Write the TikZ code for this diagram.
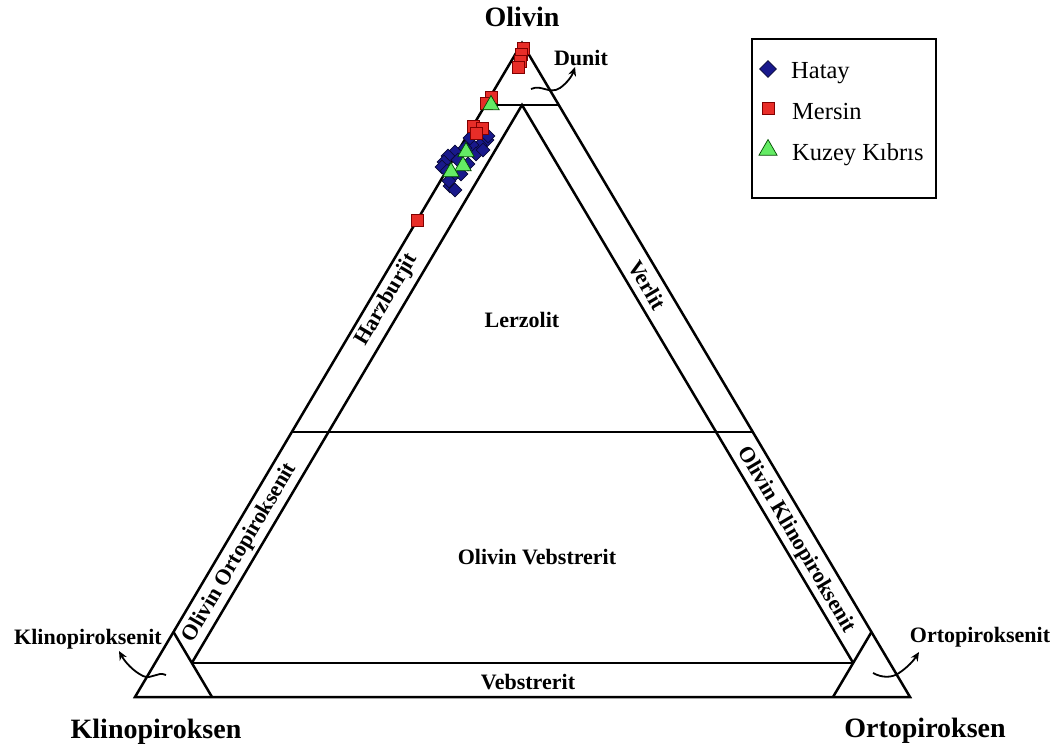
\documentclass[tikz,border=0pt]{standalone}
\usepackage{fontspec}
\setmainfont{Liberation Serif}
\usetikzlibrary{arrows.meta,shapes.geometric}
\definecolor{hblue}{RGB}{25,25,140}
\definecolor{mred}{RGB}{232,45,40}
\definecolor{kgreen}{RGB}{100,235,100}
\begin{document}
\begin{tikzpicture}[x=1pt,y=-1pt,
  edge/.style={line width=2.5pt, line join=miter},
  lbl/.style={font=\bfseries\fontsize{22}{26}\selectfont, inner sep=0pt},
  big/.style={font=\bfseries\fontsize{28}{32}\selectfont, inner sep=0pt},
  leg/.style={font=\fontsize{24.5}{28}\selectfont, inner sep=0pt, anchor=base west},
  dia/.style={diamond, draw=black!60!hblue, fill=hblue, minimum size=14pt, inner sep=0pt, line width=0.6pt},
  sq/.style={rectangle, draw=red!50!black, fill=mred, minimum size=12pt, inner sep=0pt, line width=0.6pt},
  tri/.style={regular polygon, regular polygon sides=3, draw=green!30!black, fill=kgreen, minimum size=19pt, inner sep=0pt, line width=0.7pt},
  curvy/.style={line width=1.8pt, -{Stealth[length=9pt,width=8pt]}}
]
\useasboundingbox[fill=white] (0,0) rectangle (1064,751);
% main triangle
\coordinate (A) at (522,43);
\coordinate (B) at (135,697);
\coordinate (C) at (910,697);
\draw[edge] (A) -- (B) -- (C) -- cycle;
% dunite line
\coordinate (D1) at (485.3,105);
\coordinate (D2) at (559.7,105);
\draw[edge] (D1) -- (D2);
\coordinate (I) at (522,105);
% 40% olivine line
\coordinate (L4) at (291.8,432);
\coordinate (R4) at (753.2,432);
\draw[edge] (L4) -- (R4);
% corner triangles
\coordinate (KL) at (173.5,632);
\coordinate (KB) at (212,697);
\draw[edge] (KL) -- (KB);
\coordinate (OR) at (871.5,632);
\coordinate (OB) at (833,697);
\draw[edge] (OR) -- (OB);
% inner lines
\coordinate (L1) at (191.8,663);
\coordinate (R1) at (853.2,663);
\draw[edge] (L1) -- (I) -- (R1);
\draw[edge] (L1) -- (R1);
% labels
\node[big, anchor=base] (olv) at (522,27) {Olivin};
\node[big, anchor=base] (kp) at (156,738) {Klinopiroksen};
\node[big, anchor=base] (op) at (925,737) {Ortopiroksen};
\node[lbl] (dun) at (581,58) {Dunit};
\node[lbl] (kpt) at (88,639) {Klinopiroksenit};
\node[lbl] (opt) at (980,637) {Ortopiroksenit};
\node[lbl] (lrz) at (522,320) {Lerzolit};
\node[lbl] (ovb) at (537,557) {Olivin Vebstrerit};
\node[lbl] (vb) at (528,682) {Vebstrerit};
\node[lbl, rotate=59.4] (hz) at (387,300) {Harzburjit};
\node[lbl, rotate=-59.4] (vr) at (647,285) {Verlit};
\node[lbl, rotate=59.4] (oop) at (240,553) {Olivin Ortopiroksenit};
\node[lbl, rotate=-59.4] (okp) at (796,540) {Olivin Klinopiroksenit};
% curvy arrows
\coordinate (dt) at (531,89);
\coordinate (dh) at (575,67);
\draw[curvy] (dt) .. controls (542,84) and (549,95) .. (560,88) .. controls (567,83) and (572,76) .. (dh);
\coordinate (kt) at (166,675);
\coordinate (kh) at (119,651);
\draw[curvy] (kt) .. controls (157,671) and (152,680) .. (143,676) .. controls (133,671) and (125,662) .. (kh);
\coordinate (ot) at (873,673);
\coordinate (oh) at (919,652);
\draw[curvy] (ot) .. controls (882,678) and (892,678) .. (899,673) .. controls (908,667) and (914,660) .. (oh);
% data
\foreach \x/\y [count=\i] in {487/140,480/145,472/145,465/148,455/152,448/156,444/162,442/167,447/171,452/177,450/186,455/190,461/174,468/164,476/154,488/136,458/160,470/138,483/150,449/181}
  \node[dia] (h\i) at (\x,\y) {};
\foreach \x/\y [count=\i] in {523/48,521/54,520/61,518/67,491/97,486/103,473/126,482/128,476/133,417/220}
  \node[sq] (m\i) at (\x,\y) {};
\foreach \x/\y [count=\i] in {491/105,466/152,463/166,451/172}
  \node[tri] (k\i) at (\x,\y) {};
% legend
\node[draw, line width=2.2pt, minimum width=184pt, minimum height=159pt, anchor=north west, inner sep=0pt] (legbox) at (751,38) {};
\node[dia, minimum size=17pt] (lh) at (768,69) {};
\node[sq] (lm) at (768,108) {};
\node[tri, minimum size=21pt] (lk) at (768,150) {};
\node[leg] (th) at (791,79) {Hatay};
\node[leg] (tm) at (792,120) {Mersin};
\node[leg] (tk) at (792,161) {Kuzey Kıbrıs};
\end{tikzpicture}
\end{document}
